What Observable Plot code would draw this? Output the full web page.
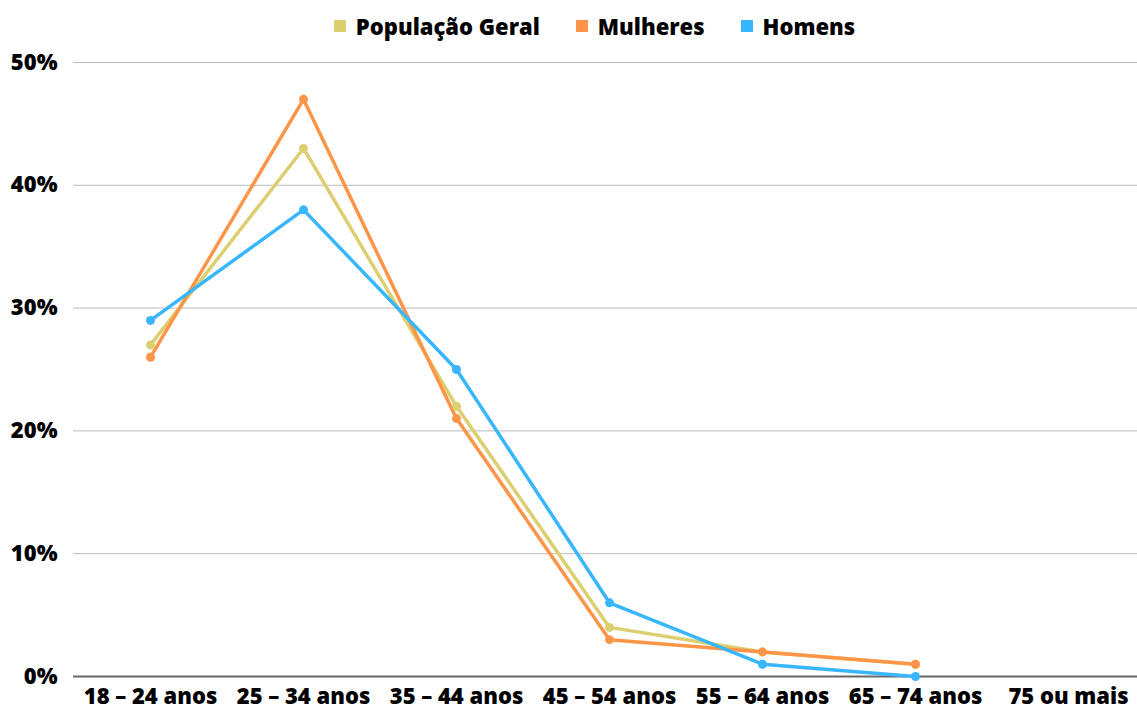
<!DOCTYPE html>
<html><head><meta charset="utf-8">
<script src="https://cdn.jsdelivr.net/npm/d3@7"></script>
<script src="https://cdn.jsdelivr.net/npm/@observablehq/plot@0.6"></script>
<style>
body{margin:0;background:#fff;font-family:"Open Sans",sans-serif;overflow:hidden;}
#legend{height:36px;padding-top:16px;display:flex;justify-content:center;align-items:center;font-weight:800;font-size:22px;color:#000;padding-left:52px;box-sizing:border-box;}
.item{display:flex;align-items:center;margin:0 18px;}
.sw{width:12px;height:12px;margin-right:10px;}
</style></head><body>
<div id="legend"></div>
<div id="chart"></div>
<script>
const categories = ["18 – 24 anos","25 – 34 anos","35 – 44 anos","45 – 54 anos","55 – 64 anos","65 – 74 anos","75 ou mais"];
const seriesNames = ["População Geral","Mulheres","Homens"];
const colors = ["#dccf70","#ff9548","#38b6ff"];
const geral    = [27, 43, 22, 4, 2, 1, null];
const mulheres = [26, 47, 21, 3, 2, 1, null];
const homens   = [29, 38, 25, 6, 1, 0, null];
const yTicks = [0,10,20,30,40,50];

const valuesBySeries = [geral, mulheres, homens];
const data = [];
seriesNames.forEach((s,i)=>categories.forEach((c,j)=>{
  if (valuesBySeries[i][j] != null) data.push({serie:s, cat:c, v:valuesBySeries[i][j]});
}));

const leg = document.getElementById("legend");
seriesNames.forEach((s,i)=>{
  const d=document.createElement("div");d.className="item";
  d.innerHTML=`<span class="sw" style="background:${colors[i]}"></span><span>${s}</span>`;
  leg.appendChild(d);
});

const chart = Plot.plot({
  width: 1137, height: 674,
  marginLeft: 73, marginRight: -7, marginTop: 26, marginBottom: 34,
  style:{fontFamily:"Open Sans, sans-serif", fontSize:"22px", fontWeight:800, color:"#000", background:"#fff"},
  x:{type:"point", domain:categories, padding:0.5, label:null},
  y:{domain:[0,50], label:null},
  color:{domain:seriesNames, range:colors},
  marks:[
    Plot.gridY(yTicks.slice(1),{stroke:"#bbb", strokeOpacity:1, strokeWidth:1}),
    Plot.ruleY([0],{stroke:"#666", strokeWidth:2}),
    Plot.axisY(yTicks,{tickSize:0, tickPadding:16, tickFormat:d=>d+"%", fontSize:22, fontWeight:800, label:null}),
    Plot.axisX({tickSize:0, tickPadding:12, fontSize:22, fontWeight:800, label:null}),
    Plot.line(data,{x:"cat", y:"v", z:"serie", stroke:"serie", strokeWidth:3.5}),
    Plot.dot(data,{x:"cat", y:"v", fill:"serie", r:4.5})
  ]
});
document.getElementById("chart").appendChild(chart);
</script>
</body></html>
